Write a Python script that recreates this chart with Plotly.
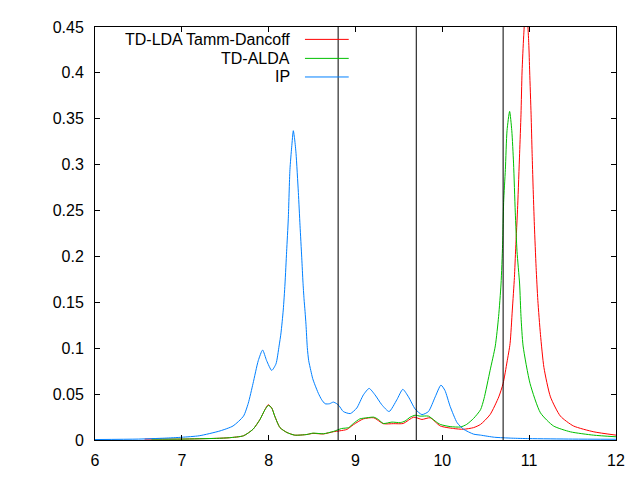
import plotly.graph_objects as go

# energies (eV) and spectra
ip_e = [6.0, 6.5, 6.8, 7.0, 7.2, 7.44, 7.59, 7.71, 7.765, 7.82, 7.88, 7.93, 7.977,
        8.035, 8.084, 8.12, 8.142, 8.168, 8.188, 8.207, 8.226, 8.245, 8.265, 8.284,
        8.30, 8.315, 8.342, 8.361, 8.381, 8.395, 8.407, 8.419, 8.43, 8.445, 8.461,
        8.485, 8.507, 8.534, 8.572, 8.611, 8.65, 8.70, 8.745, 8.785, 8.81, 8.86, 8.94,
        9.015, 9.09, 9.157, 9.226, 9.303, 9.387, 9.476, 9.545, 9.61, 9.687, 9.765,
        9.84, 9.918, 9.984, 10.03, 10.09, 10.17, 10.245, 10.36, 10.44, 10.6, 10.8,
        11.0, 11.5, 12.0]
ip_val = [0.0005, 0.001, 0.002, 0.003, 0.0046, 0.0099, 0.0153, 0.026, 0.040, 0.0616,
          0.0864, 0.098, 0.0864, 0.0758, 0.0829, 0.1025, 0.1167, 0.1416, 0.170, 0.2056,
          0.241, 0.2946, 0.319, 0.337, 0.327, 0.3124, 0.2697, 0.234, 0.1985, 0.172,
          0.154, 0.14, 0.1256, 0.1006, 0.0864, 0.0758, 0.0669, 0.0598, 0.0509, 0.0438,
          0.0395, 0.0395, 0.0413, 0.0395, 0.0374, 0.031, 0.0288, 0.0349, 0.049, 0.0562,
          0.049, 0.0384, 0.031, 0.0438, 0.0552, 0.047, 0.0338, 0.0277, 0.031, 0.047,
          0.0598, 0.054, 0.0366, 0.0189, 0.0117, 0.0064, 0.0053, 0.003, 0.002, 0.0015,
          0.001, 0.0008]

alda_e = [6.65, 7.0, 7.4, 7.55, 7.71, 7.82, 7.90, 7.957, 7.995, 8.035, 8.07, 8.13,
          8.21, 8.30, 8.44, 8.51, 8.63, 8.745, 8.84, 8.92, 8.976, 9.05, 9.13, 9.21,
          9.264, 9.32, 9.42, 9.515, 9.57, 9.63, 9.687, 9.745, 9.84, 9.918, 9.976,
          10.09, 10.21, 10.28, 10.36, 10.44, 10.48, 10.55, 10.61, 10.648, 10.676,
          10.694, 10.706, 10.726, 10.745, 10.775, 10.80, 10.82, 10.84, 10.86, 10.89,
          10.906, 10.93, 11.01, 11.13, 11.28, 11.475, 11.74, 12.0]
alda_val = [0.001, 0.001, 0.0018, 0.0025, 0.0046, 0.0117, 0.0224, 0.033, 0.0377,
            0.0349, 0.026, 0.0135, 0.0082, 0.0053, 0.006, 0.0075, 0.0068, 0.0093,
            0.0125, 0.0135, 0.018, 0.023, 0.0242, 0.0249, 0.0224, 0.018, 0.0195,
            0.0189, 0.0206, 0.0249, 0.027, 0.026, 0.026, 0.0206, 0.017, 0.0146, 0.0142,
            0.017, 0.0235, 0.033, 0.045, 0.0758, 0.1025, 0.1345, 0.170, 0.2127, 0.259,
            0.2946, 0.337, 0.358, 0.337, 0.3017, 0.2483, 0.2056, 0.170, 0.1345, 0.1025,
            0.0616, 0.0296, 0.0153, 0.0089, 0.0053, 0.0035]

tda_e = [6.57, 7.0, 7.4, 7.55, 7.71, 7.82, 7.90, 7.957, 7.995, 8.035, 8.07, 8.13, 8.21,
         8.30, 8.44, 8.51, 8.63, 8.745, 8.82, 8.90, 8.976, 9.09, 9.21, 9.32, 9.44, 9.55,
         9.67, 9.765, 9.86, 9.976, 10.13, 10.245, 10.36, 10.44, 10.55, 10.65, 10.70,
         10.745, 10.78, 10.806, 10.83, 10.845, 10.868, 10.89, 10.906, 10.918, 10.937,
         10.965, 10.995, 11.006, 11.022, 11.034, 11.045, 11.06, 11.08, 11.10, 11.13,
         11.17, 11.245, 11.36, 11.51, 11.745, 12.0]
tda_val = [0.001, 0.001, 0.0018, 0.0025, 0.0046, 0.0117, 0.0224, 0.033, 0.0385, 0.035,
           0.026, 0.0135, 0.0082, 0.0053, 0.006, 0.0072, 0.0066, 0.009, 0.010, 0.0115,
           0.0167, 0.023, 0.0242, 0.0178, 0.0178, 0.018, 0.0249, 0.0224, 0.0242, 0.0153,
           0.0125, 0.0117, 0.0135, 0.017, 0.0277, 0.047, 0.0616, 0.085, 0.105, 0.1416,
           0.177, 0.209, 0.2554, 0.3124, 0.355, 0.401, 0.4404, 0.48, 0.433, 0.401, 0.355,
           0.3124, 0.2767, 0.234, 0.188, 0.152, 0.115, 0.079, 0.047, 0.026, 0.0153,
           0.0089, 0.0053]

marker_lines = [8.8, 9.7, 10.7]

series_names = ["TD-LDA Tamm-Dancoff", "TD-ALDA", "IP"]
series_colors = ["#ff0000", "#00c000", "#0080ff"]

FONT = "Liberation Sans"

fig = go.Figure()
for name, xs, ys, col in zip(series_names, [tda_e, alda_e, ip_e],
                             [tda_val, alda_val, ip_val], series_colors):
    fig.add_trace(go.Scatter(x=xs, y=ys, mode="lines", name=name,
                             line=dict(color=col, width=1, shape="spline", smoothing=0.6)))

for xv in marker_lines:
    fig.add_shape(type="line", xref="x", yref="paper", x0=xv, x1=xv, y0=0, y1=1,
                  line=dict(color="black", width=1))

# gnuplot-style key: text right-aligned, sample line to its right
key_y = [0.970, 0.924, 0.879]
for name, col, ky in zip(series_names, series_colors, key_y):
    fig.add_annotation(x=0.378, y=ky, xref="paper", yref="paper", text=name,
                       showarrow=False, xanchor="right", yanchor="middle",
                       font=dict(family=FONT, size=16, color="black"))
    fig.add_shape(type="line", xref="paper", yref="paper", x0=0.403, x1=0.487,
                  y0=ky, y1=ky, line=dict(color=col, width=1))

axis_common = dict(showline=True, linecolor="black", linewidth=1, mirror="ticks",
                   ticks="inside", ticklen=5, tickcolor="black", showgrid=False,
                   zeroline=False, tickfont=dict(family=FONT, size=16, color="black"))

fig.update_xaxes(range=[6, 12], dtick=1, tick0=6, ticklabelstandoff=6, **axis_common)
fig.update_yaxes(range=[0, 0.45], dtick=0.05, tick0=0, ticklabelstandoff=7, **axis_common)

# page body has an 8px margin, so the figure is a bit smaller than the window
fig.update_layout(width=632, height=472, showlegend=False,
                  plot_bgcolor="white", paper_bgcolor="white",
                  margin=dict(l=87, r=24, t=11, b=39),
                  font=dict(family=FONT, size=16, color="black"))

fig.write_html("out.html")
